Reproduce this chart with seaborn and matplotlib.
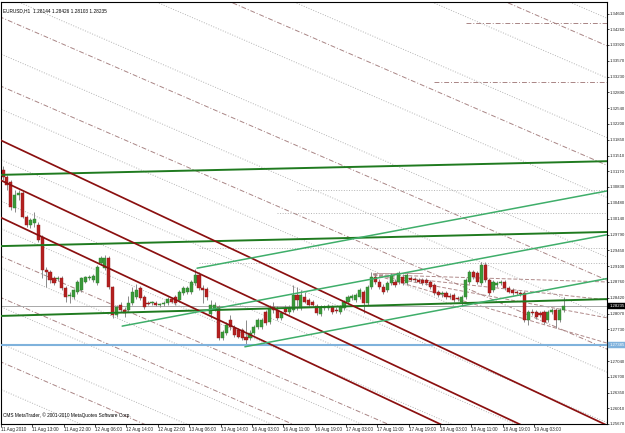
import matplotlib
matplotlib.use("Agg")
import matplotlib.pyplot as plt
import matplotlib.transforms as mtransforms
import numpy as np
import pandas as pd
import seaborn as sns

# ---------------- data (EURUSD H1) ----------------
opens = [1.3120, 1.3104, 1.3094, 1.3037, 1.3065, 1.3070, 1.3017, 1.2999, 1.3004, 1.2999,
         1.2974, 1.2902, 1.2898, 1.2885, 1.2883, 1.2885, 1.2863, 1.2846, 1.2843, 1.2854,
         1.2859, 1.2876, 1.2885, 1.2880, 1.2874, 1.2917, 1.2906, 1.2928, 1.2865, 1.2804,
         1.2826, 1.2815, 1.2815, 1.2830, 1.2843, 1.2863, 1.2843, 1.2830, 1.2830, 1.2830,
         1.2826, 1.2828, 1.2830, 1.2839, 1.2843, 1.2837, 1.2852, 1.2854, 1.2854, 1.2874,
         1.2891, 1.2863, 1.2861, 1.2806, 1.2817, 1.2822, 1.2754, 1.2765, 1.2793, 1.2776,
         1.2771, 1.2771, 1.2756, 1.2754, 1.2765, 1.2778, 1.2778, 1.2811, 1.2789, 1.2822,
         1.2815, 1.2798, 1.2819, 1.2811, 1.2815, 1.2848, 1.2819, 1.2843, 1.2837, 1.2832,
         1.2824, 1.2806, 1.2819, 1.2819, 1.2822, 1.2815, 1.2811, 1.2819, 1.2832, 1.2841,
         1.2837, 1.2843, 1.2854, 1.2830, 1.2865, 1.2887, 1.2876, 1.2865, 1.2859, 1.2874,
         1.2876, 1.2876, 1.2887, 1.2874, 1.2885, 1.2883, 1.2880, 1.2880, 1.2880, 1.2876,
         1.2869, 1.2854, 1.2850, 1.2852, 1.2846, 1.2848, 1.2841, 1.2832, 1.2843, 1.2876,
         1.2898, 1.2896, 1.2874, 1.2913, 1.2880, 1.2859, 1.2869, 1.2874, 1.2876, 1.2863,
         1.2859, 1.2854, 1.2852, 1.2852, 1.2793, 1.2811, 1.2811, 1.2808, 1.2811, 1.2793,
         1.2811, 1.2815, 1.2793, 1.2815]
highs = [1.3128, 1.3109, 1.3098, 1.3076, 1.3076, 1.3074, 1.3022, 1.3015, 1.3028, 1.3006,
         1.2978, 1.2909, 1.2902, 1.2889, 1.2889, 1.2889, 1.2867, 1.2854, 1.2861, 1.2880,
         1.2887, 1.2889, 1.2891, 1.2893, 1.2913, 1.2933, 1.2935, 1.2933, 1.2867, 1.2826,
         1.2832, 1.2822, 1.2846, 1.2865, 1.2872, 1.2867, 1.2848, 1.2835, 1.2835, 1.2835,
         1.2830, 1.2835, 1.2843, 1.2843, 1.2848, 1.2859, 1.2867, 1.2867, 1.2880, 1.2904,
         1.2898, 1.2869, 1.2865, 1.2837, 1.2832, 1.2826, 1.2771, 1.2789, 1.2804, 1.2782,
         1.2776, 1.2776, 1.2793, 1.2771, 1.2782, 1.2798, 1.2798, 1.2815, 1.2826, 1.2832,
         1.2824, 1.2813, 1.2826, 1.2826, 1.2869, 1.2865, 1.2859, 1.2854, 1.2841, 1.2837,
         1.2828, 1.2826, 1.2826, 1.2828, 1.2826, 1.2822, 1.2826, 1.2837, 1.2848, 1.2850,
         1.2852, 1.2863, 1.2859, 1.2869, 1.2898, 1.2896, 1.2883, 1.2872, 1.2878, 1.2896,
         1.2883, 1.2900, 1.2893, 1.2896, 1.2889, 1.2887, 1.2885, 1.2885, 1.2885, 1.2880,
         1.2874, 1.2859, 1.2856, 1.2856, 1.2852, 1.2852, 1.2846, 1.2848, 1.2885, 1.2902,
         1.2902, 1.2900, 1.2919, 1.2919, 1.2885, 1.2880, 1.2878, 1.2880, 1.2880, 1.2867,
         1.2863, 1.2859, 1.2856, 1.2856, 1.2815, 1.2817, 1.2815, 1.2813, 1.2815, 1.2815,
         1.2819, 1.2819, 1.2819, 1.2843]
lows = [1.3098, 1.3076, 1.3033, 1.3028, 1.3054, 1.3015, 1.2996, 1.2994, 1.2996, 1.2963,
        1.2885, 1.2865, 1.2874, 1.2869, 1.2878, 1.2859, 1.2832, 1.2830, 1.2839, 1.2850,
        1.2854, 1.2874, 1.2880, 1.2876, 1.2869, 1.2913, 1.2902, 1.2861, 1.2798, 1.2800,
        1.2811, 1.2800, 1.2811, 1.2826, 1.2839, 1.2837, 1.2817, 1.2826, 1.2826, 1.2824,
        1.2822, 1.2824, 1.2826, 1.2830, 1.2826, 1.2832, 1.2848, 1.2850, 1.2850, 1.2869,
        1.2859, 1.2830, 1.2837, 1.2798, 1.2813, 1.2750, 1.2750, 1.2761, 1.2771, 1.2756,
        1.2754, 1.2750, 1.2737, 1.2750, 1.2761, 1.2774, 1.2774, 1.2782, 1.2785, 1.2808,
        1.2793, 1.2793, 1.2806, 1.2806, 1.2811, 1.2815, 1.2815, 1.2830, 1.2822, 1.2822,
        1.2804, 1.2802, 1.2815, 1.2815, 1.2806, 1.2808, 1.2806, 1.2815, 1.2828, 1.2837,
        1.2832, 1.2839, 1.2808, 1.2826, 1.2861, 1.2872, 1.2861, 1.2850, 1.2854, 1.2869,
        1.2865, 1.2872, 1.2869, 1.2869, 1.2878, 1.2876, 1.2874, 1.2869, 1.2869, 1.2861,
        1.2848, 1.2843, 1.2843, 1.2839, 1.2839, 1.2832, 1.2835, 1.2824, 1.2839, 1.2872,
        1.2883, 1.2872, 1.2869, 1.2876, 1.2848, 1.2854, 1.2865, 1.2869, 1.2859, 1.2852,
        1.2848, 1.2848, 1.2846, 1.2789, 1.2782, 1.2804, 1.2796, 1.2800, 1.2785, 1.2789,
        1.2806, 1.2776, 1.2789, 1.2811]
closes = [1.3104, 1.3087, 1.3039, 1.3065, 1.3070, 1.3017, 1.2999, 1.3011, 1.3013, 1.2967,
          1.2902, 1.2898, 1.2880, 1.2874, 1.2885, 1.2863, 1.2843, 1.2848, 1.2859, 1.2876,
          1.2885, 1.2887, 1.2887, 1.2889, 1.2909, 1.2928, 1.2928, 1.2865, 1.2804, 1.2822,
          1.2815, 1.2808, 1.2830, 1.2854, 1.2859, 1.2841, 1.2822, 1.2829, 1.2832, 1.2826,
          1.2828, 1.2830, 1.2839, 1.2832, 1.2830, 1.2854, 1.2863, 1.2863, 1.2876, 1.2891,
          1.2863, 1.2859, 1.2843, 1.2826, 1.2826, 1.2754, 1.2767, 1.2782, 1.2778, 1.2761,
          1.2756, 1.2754, 1.2750, 1.2765, 1.2778, 1.2793, 1.2793, 1.2787, 1.2819, 1.2815,
          1.2798, 1.2808, 1.2811, 1.2819, 1.2848, 1.2837, 1.2848, 1.2832, 1.2826, 1.2826,
          1.2808, 1.2819, 1.2822, 1.2824, 1.2811, 1.2813, 1.2822, 1.2832, 1.2843, 1.2846,
          1.2848, 1.2859, 1.2830, 1.2865, 1.2887, 1.2876, 1.2865, 1.2854, 1.2874, 1.2891,
          1.2869, 1.2896, 1.2874, 1.2891, 1.2880, 1.2880, 1.2876, 1.2874, 1.2874, 1.2865,
          1.2852, 1.2848, 1.2852, 1.2843, 1.2843, 1.2837, 1.2839, 1.2843, 1.2880, 1.2898,
          1.2887, 1.2876, 1.2913, 1.2880, 1.2852, 1.2876, 1.2874, 1.2876, 1.2863, 1.2854,
          1.2852, 1.2852, 1.2850, 1.2793, 1.2811, 1.2808, 1.2800, 1.2804, 1.2789, 1.2811,
          1.2815, 1.2793, 1.2815, 1.28235]

price_ticks = [1.25670, 1.26010, 1.26350, 1.26700, 1.27040, 1.27730, 1.28070, 1.28420,
               1.28760, 1.29100, 1.29450, 1.29790, 1.30140, 1.30480, 1.30830, 1.31170,
               1.31510, 1.31850, 1.32200, 1.32540, 1.32890, 1.33230, 1.33570, 1.33920,
               1.34260, 1.34600]
time_labels = ["11 Aug 2010", "11 Aug 13:00", "11 Aug 22:00", "12 Aug 06:00", "12 Aug 14:00",
               "12 Aug 22:00", "13 Aug 06:00", "13 Aug 14:00", "16 Aug 03:00", "16 Aug 11:00",
               "16 Aug 19:00", "17 Aug 03:00", "17 Aug 11:00", "17 Aug 19:00", "18 Aug 03:00",
               "18 Aug 11:00", "18 Aug 19:00", "19 Aug 03:00"]
time_label_bars = [0, 8, 16, 24, 32, 40, 48, 56, 64, 72, 80, 88, 96, 104, 112, 120, 128, 136]

title_text = "EURUSD,H1  1.28144 1.28426 1.28103 1.28235"
copyright_text = "CMS MetaTrader, \u00a9 2001-2010 MetaQuotes Software Corp."
bid_price = 1.28235
hline_price = 1.27385

# drawing objects (anchors in bar index / price)
green_left = [1.3109, 1.2954, 1.2802]     # price at bar -1
green_right = [1.3139, 1.2985, 1.2839]    # price at bar 155
red_start = [1.3182, 1.3095, 1.3014]      # price at bar 0
red_slope = -0.000401                     # price per bar
pf_bars = [30.4, 49.5, 61.7]              # Andrews pitchfork anchors
pf_prices = [1.2780, 1.2906, 1.2735]
grey_diag = [1.4020, 1.3890, 1.3760, 1.3630, 1.3500, 1.3370, 1.3250, 1.3140, 1.3050,
             1.2990, 1.2905, 1.2820, 1.2740, 1.2640]
rosy_diag = [1.3960, 1.3700, 1.3450, 1.3300, 1.2930, 1.2840, 1.2700]
diag_slope = -0.00037
fan_origin = (94.5, 1.2892)
fan_end_prices = [1.2876, 1.2837, 1.2798, 1.2743]
hdots = [1.3076, 1.3026, 1.2950, 1.2918]
hdots_start = [75, 70, 50, 50]
hdash = [1.3439, 1.3311]
hdash_start = [118, 110]

# ---------------- figure ----------------
sns.set_theme(style="white")
plt.rcParams["font.family"] = ["Liberation Sans Narrow", "Liberation Sans", "DejaVu Sans"]

W, H = 625, 433
fig = plt.figure(figsize=(W / 100, H / 100), dpi=100)
fig.patch.set_facecolor("white")
ax = fig.add_axes([1 / W, 9 / H, 606 / W, 422 / H])
ax.set_facecolor("white")
X0, X1 = -0.51, 154.08
Y0, Y1 = 1.25670, 1.34852
ax.set_xlim(X0, X1)
ax.set_ylim(Y0, Y1)

def seg(xs, ys, color, lw, ls="-", z=3):
    d = pd.DataFrame({"x": xs, "y": ys})
    sns.lineplot(data=d, x="x", y="y", ax=ax, color=color, linewidth=lw,
                 linestyle=ls, sort=False, estimator=None, zorder=z)

XR = 160
DASHDOT = (0, (5, 2, 1, 2))
for p in grey_diag:
    seg([-2, XR], [p + diag_slope * -2, p + diag_slope * XR], "#b4b4b4", 0.7, ":", 1)
for p in rosy_diag:
    seg([-2, XR], [p + diag_slope * -2, p + diag_slope * XR], "#a98585", 0.7, DASHDOT, 1)
for p, s in zip(hdots, hdots_start):
    seg([s, XR], [p, p], "#b4b4b4", 0.7, ":", 1)
for p, s in zip(hdash, hdash_start):
    seg([s, XR], [p, p], "#a98585", 0.7, DASHDOT, 1)
for pe in fan_end_prices:
    seg([fan_origin[0], 154.1], [fan_origin[1], pe], "#b08a8a", 0.7, (0, (4, 2)), 1)
seg([fan_origin[0], 107], [fan_origin[1] + 0.0003, fan_origin[1] + 0.0003], "#c0a0a0", 0.7, "-", 1)

# candles
idx = np.arange(len(opens))
o = np.array(opens); c = np.array(closes)
hi = np.array(highs); lo = np.array(lows)
ax.vlines(idx, lo, hi, color="#8a8a8a", linewidth=0.7, zorder=2)
bull = c >= o
body = np.maximum(np.abs(c - o), 0.00006)
bottom = np.minimum(o, c)
ax.bar(idx[bull], body[bull], bottom=bottom[bull], width=0.8, color="#3a9a3a",
       edgecolor="#2e7d2e", linewidth=0.3, zorder=2.5)
ax.bar(idx[~bull], body[~bull], bottom=bottom[~bull], width=0.8, color="#b52020",
       edgecolor="#901818", linewidth=0.3, zorder=2.5)

# horizontal lines
ax.axhline(hline_price, color="#7fb2dc", linewidth=1.5, zorder=3)
ax.axhline(bid_price, color="#a8a8a8", linewidth=0.7, zorder=1.5)

# dark green lines
for pl, pr in zip(green_left, green_right):
    seg([-1, 155], [pl, pr], "#1f7a1f", 1.4, "-", 4)

# red channel
for p in red_start:
    seg([-2, XR], [p + red_slope * -2, p + red_slope * XR], "#8b1010", 1.25, "-", 4)

# Andrews pitchfork
mid_b = (pf_bars[1] + pf_bars[2]) / 2
mid_p = (pf_prices[1] + pf_prices[2]) / 2
pf_slope = (mid_p - pf_prices[0]) / (mid_b - pf_bars[0])
for b, p in zip(pf_bars, pf_prices):
    seg([b, XR], [p, p + pf_slope * (XR - b)], "#3fae6a", 1.1, "-", 4)

# ---------------- axes styling ----------------
LS = 3.1
for sp in ax.spines.values():
    sp.set_color("black")
    sp.set_linewidth(0.8)
ax.yaxis.tick_right()
ax.set_yticks(price_ticks)
ax.set_yticklabels([f"{v:.5f}" for v in price_ticks])
ax.tick_params(axis="y", which="major", direction="out", length=1.5, width=0.5,
               color="black", labelsize=LS, pad=0.6, right=True, left=False)
ax.set_xticks([b - 0.5 for b in time_label_bars])
ax.set_xticklabels(time_labels)
for t in ax.get_xticklabels():
    t.set_ha("left")
ax.tick_params(axis="x", which="major", direction="out", length=2, width=0.5,
               color="black", labelsize=LS + 0.2, pad=0.5, bottom=True)
ax.set_xlabel("")
ax.set_ylabel("")
ax.grid(False)

# price boxes on the axis
trans = mtransforms.blended_transform_factory(ax.transAxes, ax.transData)
ax.text(1.004, bid_price, f"{bid_price:.5f}", transform=trans, fontsize=LS, color="white",
        va="center", ha="left", clip_on=False, zorder=10,
        bbox=dict(boxstyle="square,pad=0.3", facecolor="black", edgecolor="black", linewidth=0.3))
ax.text(1.004, hline_price, f"{hline_price:.5f}", transform=trans, fontsize=LS, color="white",
        va="center", ha="left", clip_on=False, zorder=10,
        bbox=dict(boxstyle="square,pad=0.3", facecolor="#7fb2dc", edgecolor="#7fb2dc", linewidth=0.3))

# texts
ax.text(0.004, 0.985, title_text, transform=ax.transAxes, fontsize=LS + 0.3, color="black",
        va="top", ha="left", zorder=10)
ax.text(0.004, 0.014, copyright_text, transform=ax.transAxes, fontsize=LS + 0.3, color="black",
        va="bottom", ha="left", zorder=10)

leg = ax.get_legend()
if leg is not None:
    leg.remove()

fig.savefig("out.png", dpi=100, facecolor="white")
